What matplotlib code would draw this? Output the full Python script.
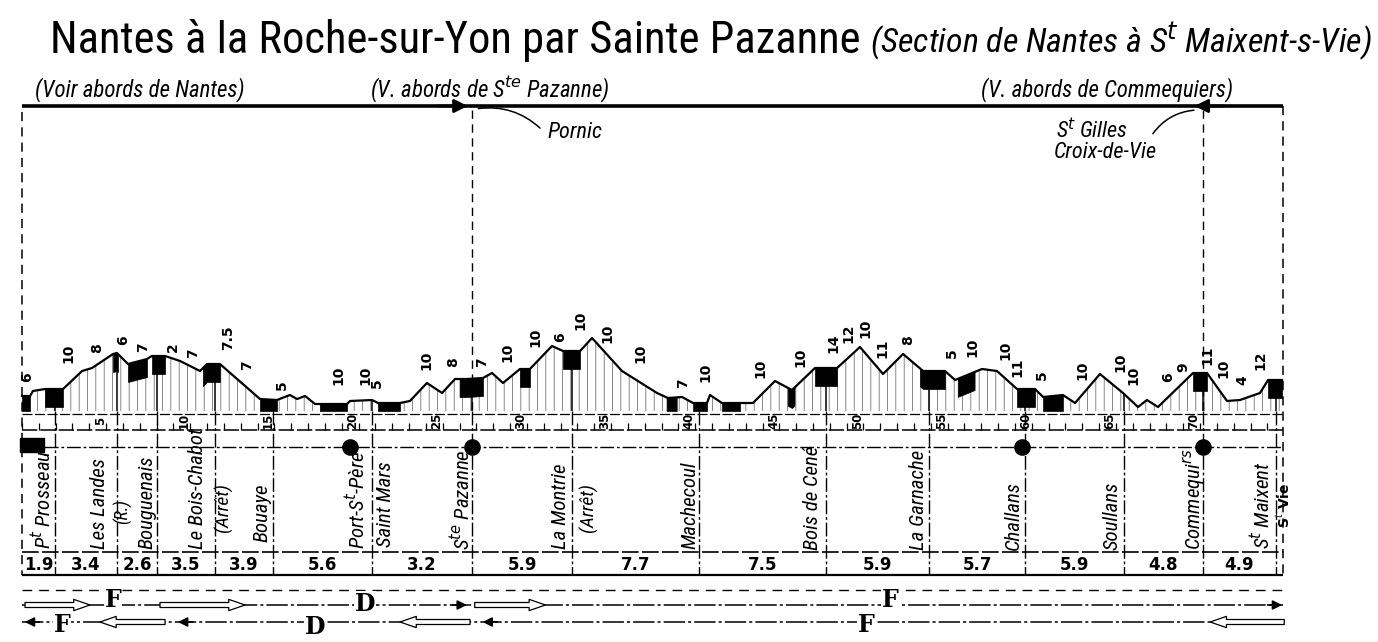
import numpy as np
import matplotlib
matplotlib.use("Agg")
import matplotlib.pyplot as plt
from matplotlib import font_manager as fm
from matplotlib.patches import FancyArrowPatch, Rectangle

# ---------------- data ----------------
profile_km = [0.00, 0.48, 0.65, 1.37, 2.44, 3.57, 4.16, 5.41, 5.64, 6.30, 7.43, 7.72, 8.50,
              9.39, 10.58, 10.99, 11.76, 14.14, 15.15, 15.92, 16.34, 16.82, 17.41, 19.31,
              19.49, 20.80, 21.15, 22.46, 23.05, 24.06, 24.96, 25.73, 26.44, 27.39, 27.93,
              28.58, 29.59, 30.18, 31.49, 32.15, 33.16, 33.87, 35.65, 37.73, 38.38, 39.22,
              39.87, 40.70, 40.88, 41.59, 43.43, 44.74, 45.75, 47.12, 48.43, 49.79, 51.16,
              52.35, 53.54, 54.84, 55.44, 57.04, 57.93, 59.12, 60.19, 60.67, 61.85, 62.57,
              64.05, 65.42, 66.31, 66.84, 67.50, 69.58, 70.41, 71.60, 72.37, 73.56, 74.04,
              74.87]
profile_elev = [7.5, 7.5, 10, 11, 11, 20, 21.5, 28.5, 29, 23.5, 26, 27.5, 27.5,
                25, 20, 23.5, 23.5, 6, 5.5, 8, 6, 7.5, 3.5, 3.5,
                5, 5.5, 4, 4, 5, 14, 9, 16, 16, 16.5, 19,
                14, 21, 21, 32.5, 30, 30, 36.5, 20, 9, 6.5, 7,
                4, 4, 8, 4, 4, 15, 10.5, 21.5, 21.5, 32, 18.5,
                28.5, 20, 20, 15.5, 21, 20, 11, 11, 7, 8, 4,
                18.5, 9, 2, 5.5, 2, 19, 19, 5, 5.5, 9, 15.5,
                15.5]
level_sections = [(0.0, 0.48), (1.37, 2.44), (5.41, 5.70), (6.30, 7.43), (7.72, 8.50),
                  (10.75, 11.76), (14.14, 15.15), (17.7, 19.31), (21.15, 22.46),
                  (26.0, 27.39), (29.59, 30.18), (32.15, 33.16), (38.3, 38.9),
                  (39.87, 40.70), (41.59, 42.66), (45.5, 45.9), (47.12, 48.43),
                  (53.36, 54.84), (55.6, 56.6), (59.12, 60.19), (60.67, 61.85),
                  (69.58, 70.41), (74.04, 74.87)]

grad_km = [0.30, 2.73, 4.46, 6.00, 7.19, 8.97, 10.16, 12.24, 13.37, 15.45, 18.78, 20.38,
           21.09, 24.06, 25.61, 27.33, 28.82, 30.48, 31.97, 33.16, 34.76, 36.72, 39.27,
           40.58, 43.85, 46.23, 48.19, 49.08, 50.09, 51.10, 52.65, 55.26, 56.45, 58.41,
           59.12, 60.61, 62.98, 65.24, 66.01, 68.09, 68.98, 70.41, 71.36, 72.49, 73.56]
grad_elev = [14.5, 24, 29, 33, 29.5, 29.5, 26.5, 30.5, 20.5, 10.5, 13, 13,
             11.5, 20.5, 22, 22, 24.5, 32, 34.5, 40.5, 34, 24, 11.5,
             14.5, 16.5, 22, 29, 34, 36.5, 26.5, 33, 26.5, 27, 25.5,
             17, 15.5, 15.5, 19.5, 13, 14.5, 19.5, 23, 16.5, 13, 20.5]
grad_text = ["6", "10", "8", "6", "7", "2", "7", "7.5", "7", "5", "10", "10",
             "5", "10", "8", "7", "10", "10", "6", "10", "10", "10", "7",
             "10", "10", "10", "14", "12", "10", "11", "8", "5", "10", "10",
             "11", "5", "10", "10", "10", "6", "9", "11", "10", "4", "12"]

# station boundaries (km) and distances between them
station_km = [0.0, 1.96, 5.64, 8.02, 11.47, 14.91, 20.80, 26.74, 32.68, 40.23, 47.77,
              53.89, 59.60, 65.48, 70.17, 74.51, 74.93]
distances = ["1.9", "3.4", "2.6", "3.5", "3.9", "5.6", "3.2", "5.9", "7.7", "7.5",
             "5.9", "5.7", "5.9", "4.8", "4.9"]
station_names = ["P$^t$ Prosseau", "Les Landes", "(R.)", "Bouguenais", "Le Bois-Chabot",
                 "(Arrêt)", "Bouaye", "Port-S$^t$-Père", "Saint Mars", "S$^{te}$ Pazanne",
                 "La Montrie", "(Arrêt)", "Machecoul", "Bois de Cené", "La Garnache",
                 "Challans", "Soullans", "Commequi$^{rs}$", "S$^t$ Maixent"]
station_name_km = [1.25, 4.63, 6.0, 7.45, 10.40, 11.95, 14.26, 19.9, 21.6, 26.14,
                   31.97, 33.63, 39.69, 46.94, 53.24, 58.88, 64.77, 69.70, 73.68]
station_name_bottom = [549, 549, 524, 549, 549, 532, 542, 549, 547, 550,
                       549, 532, 549, 550, 550, 550, 550, 550, 549]
station_name_size = [15, 15, 13, 15, 15, 14, 15, 15, 15, 15,
                     15, 14, 15, 15, 15, 15, 15, 15, 15]
junction_km = [19.49, 26.74, 59.42, 70.17]
km_labels = [5, 10, 15, 20, 25, 30, 35, 40, 45, 50, 55, 60, 65, 70]

# traffic arrows (km)
up_letters = [("F", 5.41, 600), ("D", 20.38, 604), ("F", 51.6, 600)]
down_letters = [("F", 2.38, 625), ("D", 17.4, 627), ("F", 50.15, 625)]
up_hollow = [(0.18, 4.04), (8.2, 13.25), (26.9, 31.1)]
down_hollow = [(8.5, 4.63), (26.62, 22.46), (75.0, 70.6)]
up_heads = [26.6, 75.04]
down_heads = [0.0, 9.1, 27.2]

# ---------------- fonts ----------------
names = {f.name for f in fm.fontManager.ttflist}
stretches = {(f.name, f.stretch) for f in fm.fontManager.ttflist}
if "Liberation Sans Narrow" in names:
    NARROW = dict(family="Liberation Sans Narrow")
elif "Roboto Condensed" in names:
    NARROW = dict(family="Roboto Condensed")
elif ("DejaVu Sans", "condensed") in stretches:
    NARROW = dict(family="DejaVu Sans", stretch="condensed")
else:
    NARROW = dict(family="DejaVu Sans")
plt.rcParams["mathtext.fontset"] = "dejavusans"
plt.rcParams["hatch.linewidth"] = 0.5

# ---------------- layout ----------------
W, H = 1378, 642
PX0, PXK = 22.0, 16.83
kmlim = (-PX0 / PXK, (W - PX0) / PXK)
END = station_km[-1]
BASE = 411

fig = plt.figure(figsize=(W / 100, H / 100), dpi=100)
fig.patch.set_facecolor("white")
ax = fig.add_axes([0, 0, 1, 1])
ax.set_xlim(*kmlim)
ax.set_ylim(H, 0)
ax.axis("off")
pax = fig.add_axes([0, (H - BASE) / H, 1, 110 / H])
pax.set_xlim(*kmlim)
pax.set_ylim(0, 55)
pax.axis("off")

# ---- title ----
fig.text(50 / W, 1 - 40 / H, "Nantes à la Roche-sur-Yon par Sainte Pazanne",
         fontsize=32, va="center", ha="left", **NARROW)
fig.text(870 / W, 1 - 42 / H, "(Section de Nantes à S$^t$ Maixent-s-Vie)",
         fontsize=24.5, va="center", ha="left", style="italic", **NARROW)

# ---- top line with abords ----
ax.hlines(106, 0, END, color="k", lw=2.6)
ax.annotate("", xy=(26.65, 106), xytext=(24.6, 106),
            arrowprops=dict(arrowstyle="-|>", color="k", lw=2, mutation_scale=20))
ax.annotate("", xy=(69.5, 106), xytext=(71.6, 106),
            arrowprops=dict(arrowstyle="-|>", color="k", lw=2, mutation_scale=20))
for txt, k in [("(Voir abords de Nantes)", 7.0),
               ("(V. abords de S$^{te}$ Pazanne)", 27.8),
               ("(V. abords de Commequiers)", 64.5)]:
    ax.text(k, 90, txt, ha="center", va="center", fontsize=16.5, style="italic", **NARROW)
ax.add_patch(FancyArrowPatch((26.95, 109), (30.9, 130), arrowstyle="-",
                             connectionstyle="arc3,rad=-0.25", lw=1.1, color="k"))
ax.text(31.2, 132, "Pornic", ha="left", va="center", fontsize=16, style="italic", **NARROW)
ax.add_patch(FancyArrowPatch((69.8, 110), (67.1, 136), arrowstyle="-",
                             connectionstyle="arc3,rad=0.25", lw=1.1, color="k"))
ax.text(63.6, 131, "S$^t$ Gilles", ha="center", va="center", fontsize=16,
        style="italic", **NARROW)
ax.text(64.4, 153, "Croix-de-Vie", ha="center", va="center", fontsize=16,
        style="italic", **NARROW)

# ---- long dashed verticals ----
ax.vlines([0, END], [112, 106], [575, 575], color="k", lw=1.1, ls=(0, (6, 4)))
ax.vlines([station_km[7], station_km[14]], 110, BASE, color="k", lw=1.0, ls=(0, (6, 4)))

# ---- profile ----
pk = np.array(profile_km)
pe = np.array(profile_elev)
pax.fill_between(pk, pe, 0, facecolor="none", edgecolor="0.35", hatch="||", lw=0)
for a, b in level_sections:
    xs = np.array([a] + [k for k in profile_km if a < k < b] + [b])
    ys = np.interp(xs, pk, pe)
    pax.fill_between(xs, ys, np.maximum(ys - 9, 0), color="k", lw=0.5)
pax.plot(pk, pe, color="k", lw=1.6)
for k in station_km[1:-1]:
    pax.vlines(k, 0, np.interp(k, pk, pe), color="k", lw=1.1)
for k, e, t in zip(grad_km, grad_elev, grad_text):
    pax.text(k, e, t, rotation=90, ha="center", va="bottom", fontsize=10,
             fontweight="bold", family="DejaVu Sans")

# ---- km band ----
ax.hlines(BASE + 3, 0, END, color="k", lw=0.9, ls=(0, (8, 2)))
ax.hlines(430, 0, END, color="k", lw=1.1, ls=(0, (10, 2)))
ax.vlines(np.arange(0, 75), 423, 430, color="k", lw=0.9)
for k in km_labels:
    ax.text(k - 0.35, 421, str(k), rotation=90, ha="center", va="center",
            fontsize=8.5, fontweight="bold")

# ---- station rows ----
ax.hlines(447, 0, END, color="k", lw=1.0, ls=(0, (10, 2, 2, 2)))
ax.vlines(station_km[1:-1], BASE, 575, color="k", lw=1.0, ls=(0, (10, 2, 2, 2)))
ax.add_patch(Rectangle((-0.12, 438), 1.45, 14, color="k"))
ax.scatter(junction_km, [447] * len(junction_km), s=120, color="k", zorder=5)
for t, k, yb, fs in zip(station_names, station_name_km, station_name_bottom,
                        station_name_size):
    ax.text(k, yb, t, rotation=90, ha="center", va="bottom", fontsize=fs,
            style="italic", **NARROW)
ax.text(74.99, 528, "S$^t$ Vie", rotation=90, ha="center", va="bottom", fontsize=10,
        fontweight="bold")
ax.hlines(552, 0, END, color="k", lw=1.2, ls=(0, (10, 2)))
ax.hlines(575, 0, END, color="k", lw=1.6)
for i, d in enumerate(distances):
    ax.text((station_km[i] + station_km[i + 1]) / 2, 565, d, ha="center", va="center",
            fontsize=12, fontweight="bold")

# ---- traffic arrows ----
ax.hlines(590, 0, END, color="k", lw=1.0, ls=(0, (7, 5)))
ax.hlines(605, 0, END, color="k", lw=1.1, ls=(0, (14, 2, 2, 2)))
ax.hlines(622, 0, END, color="k", lw=1.1, ls=(0, (14, 2, 2, 2)))
for a, b in up_hollow:
    ax.add_patch(FancyArrowPatch((a, 605), (b, 605), shrinkA=0, shrinkB=0,
                                 arrowstyle="simple,head_length=1.3,head_width=0.9,tail_width=0.4",
                                 mutation_scale=9, fc="white", ec="k", lw=0.9, zorder=4))
for a, b in down_hollow:
    ax.add_patch(FancyArrowPatch((a, 622), (b, 622), shrinkA=0, shrinkB=0,
                                 arrowstyle="simple,head_length=1.3,head_width=0.9,tail_width=0.4",
                                 mutation_scale=9, fc="white", ec="k", lw=0.9, zorder=4))
for k in up_heads:
    ax.annotate("", xy=(k, 605), xytext=(k - 1.2, 605),
                arrowprops=dict(arrowstyle="-|>", color="k", lw=1.2, mutation_scale=14))
for k in down_heads:
    ax.annotate("", xy=(k, 622), xytext=(k + 1.2, 622),
                arrowprops=dict(arrowstyle="-|>", color="k", lw=1.2, mutation_scale=14))
for t, k, y in up_letters + down_letters:
    ax.text(k, y, t, ha="center", va="center", fontsize=17, fontweight="bold",
            family="DejaVu Serif", zorder=6,
            bbox=dict(fc="white", ec="none", pad=0.5))

fig.savefig("out.png", dpi=100, facecolor="white")
